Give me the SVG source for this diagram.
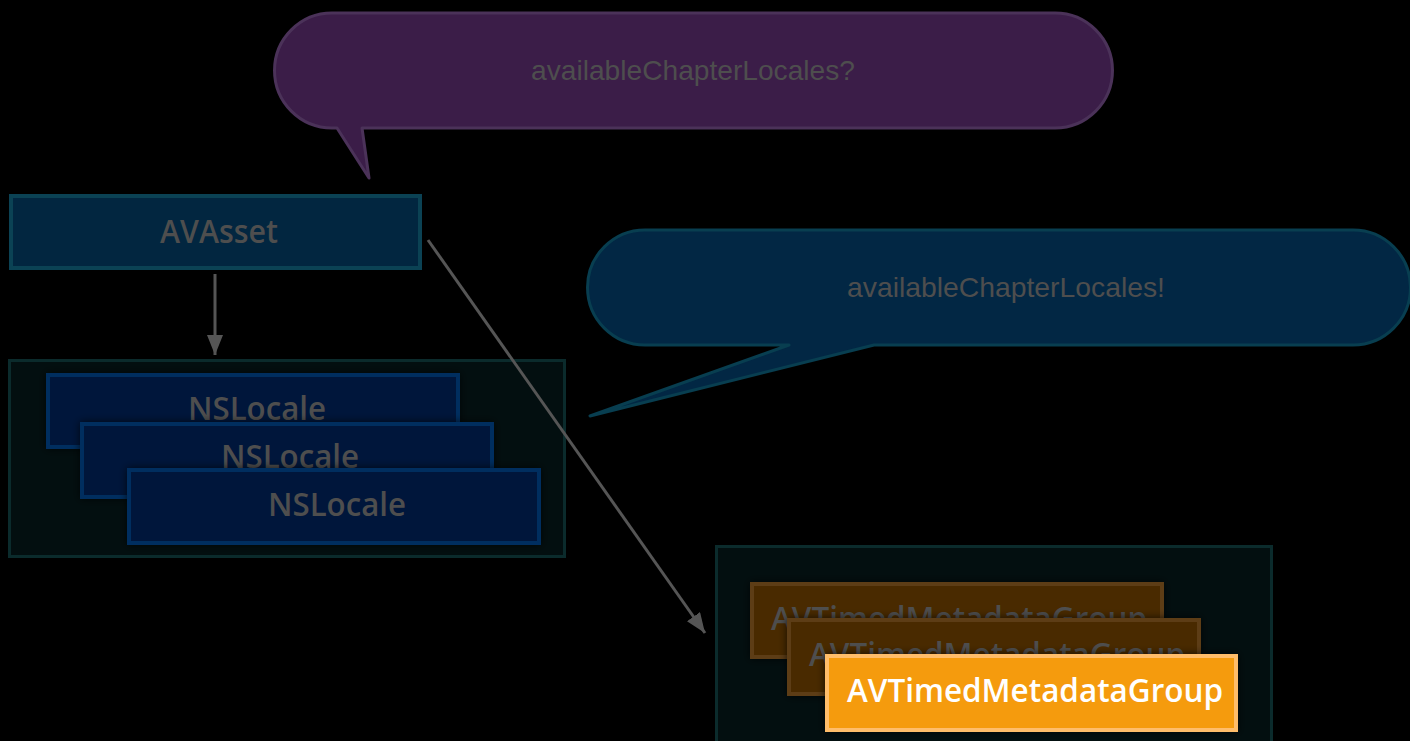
<svg xmlns="http://www.w3.org/2000/svg" width="1410" height="741" viewBox="0 0 1410 741">
  <style>
    .label { fill: #4e4e4e; text-anchor: middle; }
    .bubble-text { font-family: "Liberation Sans", Arial, sans-serif; font-size: 28px; }
    .box-text { font-family: "Open Sans", "Liberation Sans", Arial, sans-serif; font-size: 33px; font-weight: 600; }
    .container { fill: #030f10; stroke: #0b2b2c; stroke-width: 3; }
    .asset { fill: #022640; stroke: #0b4254; stroke-width: 4; }
    .locale { fill: #00143a; stroke: #062e5e; stroke-width: 4; filter: url(#shadow); }
    .group-dim { fill: #4a2a02; stroke: #5d3d16; stroke-width: 4; filter: url(#shadow); }
    .group-hot { fill: #f59b08; stroke: #ffbd6a; stroke-width: 4; filter: url(#shadow); }
    .link { stroke: #555555; stroke-width: 3; fill: none; marker-end: url(#head); }
  </style>
  <defs>
    <marker id="head" markerUnits="userSpaceOnUse" markerWidth="22" markerHeight="16" refX="20" refY="8" orient="auto">
      <path d="M0,0 L20,8 L0,16 Z" fill="#555555"/>
    </marker>
    <filter id="shadow" x="-10%" y="-30%" width="120%" height="160%">
      <feDropShadow dx="0" dy="0" stdDeviation="4" flood-color="#000000" flood-opacity="0.7"/>
    </filter>
  </defs>

  <rect width="1410" height="741" fill="#000000"/>

  <!-- question bubble -->
  <g id="bubble-question">
    <path d="M332,13 H1055 A57.5 57.5 0 0 1 1055,128 H362 L369,178 L337,128 H332 A57.5 57.5 0 0 1 332,13 Z" fill="#3b1d48" stroke="#4b3259" stroke-width="3" stroke-linejoin="round"/>
    <text class="label bubble-text" x="693" y="80" textLength="324" lengthAdjust="spacingAndGlyphs">availableChapterLocales?</text>
  </g>

  <!-- answer bubble -->
  <g id="bubble-answer">
    <path d="M645,230 H1353 A57.5 57.5 0 0 1 1353,345 H874 L590,416 L789,345 H645 A57.5 57.5 0 0 1 645,230 Z" fill="#022744" stroke="#083e50" stroke-width="3" stroke-linejoin="round"/>
    <text class="label bubble-text" x="1006" y="297" textLength="318" lengthAdjust="spacingAndGlyphs">availableChapterLocales!</text>
  </g>

  <!-- asset -->
  <g id="asset">
    <rect class="asset" x="11" y="196" width="409" height="72"/>
    <text class="label box-text" x="219" y="243" textLength="118" lengthAdjust="spacingAndGlyphs">AVAsset</text>
  </g>

  <!-- locale collection -->
  <g id="locales">
    <rect class="container" x="9.5" y="360.5" width="555" height="196"/>
    <g id="locale-1">
      <rect class="locale" x="48" y="375" width="410" height="72"/>
      <text class="label box-text" x="257" y="420" textLength="138" lengthAdjust="spacingAndGlyphs">NSLocale</text>
    </g>
    <g id="locale-2">
      <rect class="locale" x="82" y="424" width="410" height="73"/>
      <text class="label box-text" x="290" y="468" textLength="138" lengthAdjust="spacingAndGlyphs">NSLocale</text>
    </g>
    <g id="locale-3">
      <rect class="locale" x="129" y="470" width="410" height="73"/>
      <text class="label box-text" x="337" y="516" textLength="138" lengthAdjust="spacingAndGlyphs">NSLocale</text>
    </g>
  </g>

  <!-- metadata group collection -->
  <g id="metadata-groups">
    <rect class="container" x="716.5" y="546.5" width="555" height="230"/>
    <g id="group-1">
      <rect class="group-dim" x="752" y="584" width="410" height="73"/>
      <text class="label box-text" x="959" y="630" textLength="376" lengthAdjust="spacingAndGlyphs">AVTimedMetadataGroup</text>
    </g>
    <g id="group-2">
      <rect class="group-dim" x="789" y="620" width="410" height="74"/>
      <text class="label box-text" x="997" y="666" textLength="376" lengthAdjust="spacingAndGlyphs">AVTimedMetadataGroup</text>
    </g>
    <g id="group-3">
      <rect class="group-hot" x="827" y="656" width="409" height="74"/>
      <text class="label box-text" x="1035" y="702" textLength="376" lengthAdjust="spacingAndGlyphs" style="fill:#ffffff">AVTimedMetadataGroup</text>
    </g>
  </g>

  <!-- connectors -->
  <g id="connectors">
    <line class="link" x1="215" y1="274" x2="215" y2="355"/>
    <line class="link" x1="428" y1="240" x2="705" y2="633"/>
  </g>
</svg>
